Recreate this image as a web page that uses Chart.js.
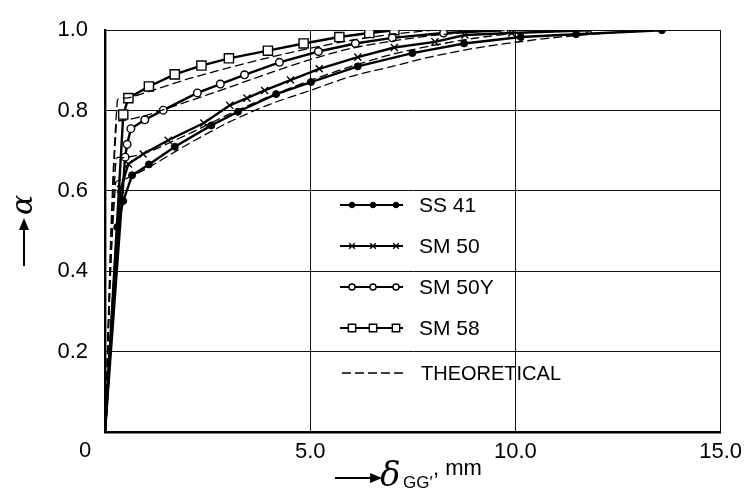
<!DOCTYPE html>
<html><head><meta charset="utf-8">
<script src="https://cdn.jsdelivr.net/npm/chart.js@4/dist/chart.umd.min.js"></script>
<style>html,body{margin:0;padding:0;background:#fff}#wrap{width:749px;height:492px;position:relative}canvas{display:block}</style>
</head><body><div id="wrap"><canvas id="c" width="749" height="492"></canvas></div>
<script>
// ---- data ----
const seriesLabels = ['SS 41', 'SM 50', 'SM 50Y', 'SM 58'];
const theoryLabel = 'THEORETICAL';
const xTickLabels = ['0', '5.0', '10.0', '15.0'];
const yTickLabels = ['0.2', '0.4', '0.6', '0.8', '1.0'];
const xTitle = ['\u03B4', 'GG\u2032', ', mm'];
const yTitle = '\u03B1';

const ss41X = [0, 0.30, 0.445, 0.66, 1.07, 1.70, 2.59, 3.24, 4.17, 5.02, 6.16, 7.49, 8.75, 10.13, 11.48, 13.57];
const ss41Y = [0, 0.510, 0.575, 0.639, 0.666, 0.710, 0.763, 0.797, 0.841, 0.871, 0.910, 0.943, 0.967, 0.983, 0.990, 1.0];

const sm50X = [0, 0.38, 0.57, 0.93, 1.54, 2.41, 3.04, 3.46, 3.89, 4.52, 5.22, 6.16, 7.05, 8.04, 8.77, 9.91, 11.8];
const sm50Y = [0, 0.604, 0.667, 0.692, 0.726, 0.769, 0.813, 0.831, 0.850, 0.876, 0.904, 0.933, 0.957, 0.971, 0.988, 0.993, 1.0];

const sm50yX = [0, 0.49, 0.54, 0.63, 0.97, 1.42, 2.25, 2.81, 3.40, 4.25, 5.20, 6.10, 7.0, 8.25, 9.72];
const sm50yY = [0, 0.684, 0.716, 0.755, 0.777, 0.801, 0.844, 0.866, 0.889, 0.920, 0.947, 0.967, 0.981, 0.993, 1.0];

const sm58X = [0, 0.445, 0.57, 1.07, 1.70, 2.35, 3.02, 3.97, 4.84, 5.71, 6.44, 7.05];
const sm58Y = [0, 0.790, 0.831, 0.860, 0.890, 0.912, 0.930, 0.949, 0.967, 0.983, 0.993, 1.0];

const theoSs41X = [0, 0.26, 0.5, 1.0, 2.0, 3.0, 4.0, 5.0, 6.0, 7.0, 8.0, 9.0, 10.0, 11.0, 12.0, 13.0, 14.0];
const theoSs41Y = [0, 0.62, 0.63, 0.655, 0.715, 0.77, 0.815, 0.85, 0.885, 0.91, 0.935, 0.955, 0.97, 0.982, 0.991, 0.997, 1.0];

const theoSm50X = [0, 0.27, 0.5, 1.0, 2.0, 3.0, 4.0, 5.0, 6.0, 7.0, 8.0, 9.0, 10.0, 11.0];
const theoSm50Y = [0, 0.68, 0.683, 0.695, 0.74, 0.79, 0.835, 0.875, 0.91, 0.94, 0.962, 0.98, 0.992, 1.0];

const theoSm50yX = [0, 0.28, 0.5, 1.0, 2.0, 3.0, 4.0, 5.0, 6.0, 7.0, 8.0, 9.0, 10.0];
const theoSm50yY = [0, 0.77, 0.776, 0.788, 0.822, 0.857, 0.893, 0.927, 0.955, 0.973, 0.987, 0.996, 1.0];

const theoSm58X = [0, 0.30, 0.6, 1.0, 2.0, 3.0, 4.0, 5.0, 6.0, 7.0, 8.0];
const theoSm58Y = [0, 0.825, 0.832, 0.845, 0.878, 0.906, 0.932, 0.955, 0.975, 0.99, 1.0];

// ---- build ----
const pts = (xs, ys) => xs.map((x, i) => ({x, y: ys[i]}));
const FONT = '"Liberation Sans", Arial, sans-serif';
const THEO_DASH = [9, 4];

const markerStyles = [
  {pointStyle: 'circle', radius: 3.5, bg: '#000', bw: 1},
  {pointStyle: 'crossRot', radius: 5, bg: '#000', bw: 1.4},
  {pointStyle: 'circle', radius: 3.8, bg: '#fff', bw: 1.4},
  {pointStyle: 'rect', radius: 6.5, bg: '#fff', bw: 1.4}
];
const expData = [pts(ss41X, ss41Y), pts(sm50X, sm50Y), pts(sm50yX, sm50yY), pts(sm58X, sm58Y)];
const theoData = [pts(theoSs41X, theoSs41Y), pts(theoSm50X, theoSm50Y), pts(theoSm50yX, theoSm50yY), pts(theoSm58X, theoSm58Y)];

const datasets = [];
theoData.forEach((d, i) => datasets.push({
  label: theoryLabel, data: d, borderColor: '#000', borderWidth: 1.3, borderDash: THEO_DASH,
  pointRadius: 0, tension: 0.3, fill: false, isTheory: true
}));
expData.forEach((d, i) => {
  const m = markerStyles[i];
  datasets.push({
    label: seriesLabels[i], data: d, borderColor: '#000', borderWidth: 2.4,
    pointStyle: m.pointStyle,
    pointRadius: ctx => ctx.dataIndex === 0 ? 0 : m.radius,
    pointBackgroundColor: m.bg, pointBorderColor: '#000', pointBorderWidth: m.bw,
    tension: 0, fill: false, markerIdx: i
  });
});

const decor = {
  id: 'decor',
  afterDraw(chart) {
    const ctx = chart.ctx;
    const xs = chart.scales.x, ys = chart.scales.y;
    ctx.save();
    ctx.fillStyle = '#000'; ctx.strokeStyle = '#000';
    // origin label
    ctx.font = '22px ' + FONT; ctx.textAlign = 'center'; ctx.textBaseline = 'middle';
    ctx.fillText(xTickLabels[0], xs.getPixelForValue(0) - 20, ys.getPixelForValue(0) + 19);

    // legend
    const lx0 = 340, lx1 = 403, ly0 = 205, dy = 41;
    const mk = [352, 373, 396];
    chart.data.datasets.filter(d => !d.isTheory).forEach((d, i) => {
      const y = ly0 + i * dy;
      const m = markerStyles[d.markerIdx];
      ctx.setLineDash([]); ctx.lineWidth = 2.2;
      ctx.beginPath(); ctx.moveTo(lx0, y); ctx.lineTo(lx1, y); ctx.stroke();
      mk.forEach(px => {
        ctx.fillStyle = m.bg; ctx.lineWidth = m.bw;
        Chart.helpers.drawPoint(ctx, {pointStyle: m.pointStyle, radius: m.radius * 0.8, borderWidth: m.bw, rotation: 0}, px, y);
      });
      ctx.fillStyle = '#000';
      ctx.textAlign = 'left'; ctx.font = '21px ' + FONT;
      ctx.fillText(d.label, 419, y + 1);
    });
    const ty = ly0 + 4 * dy + 4;
    ctx.setLineDash(THEO_DASH); ctx.lineWidth = 1.3;
    ctx.beginPath(); ctx.moveTo(342, ty); ctx.lineTo(lx1, ty); ctx.stroke();
    ctx.setLineDash([]);
    ctx.font = '20px ' + FONT;
    ctx.fillText(theoryLabel, 421, ty + 1);

    // y title: arrow + alpha, rotated
    ctx.save();
    ctx.translate(24, 230);
    ctx.rotate(-Math.PI / 2);
    ctx.lineWidth = 2;
    ctx.beginPath(); ctx.moveTo(-36, 0); ctx.lineTo(6, 0); ctx.stroke();
    ctx.beginPath(); ctx.moveTo(12, 0); ctx.lineTo(0, -5); ctx.lineTo(0, 5); ctx.closePath(); ctx.fill();
    ctx.font = 'italic 30px "DejaVu Serif", serif'; ctx.textAlign = 'left'; ctx.textBaseline = 'middle';
    ctx.fillText(yTitle, 15, 0);
    ctx.restore();

    // x title
    ctx.lineWidth = 2;
    ctx.beginPath(); ctx.moveTo(335, 478); ctx.lineTo(374, 478); ctx.stroke();
    ctx.beginPath(); ctx.moveTo(382, 478); ctx.lineTo(370, 473); ctx.lineTo(370, 483); ctx.closePath(); ctx.fill();
    ctx.textBaseline = 'alphabetic'; ctx.textAlign = 'left';
    ctx.font = 'italic 34px "DejaVu Serif", serif';
    ctx.fillText(xTitle[0], 380, 486);
    ctx.font = '17px ' + FONT;
    ctx.fillText(xTitle[1], 403, 488);
    ctx.font = '22px ' + FONT;
    ctx.fillText(xTitle[2], 433, 475);
    ctx.restore();
  }
};

new Chart(document.getElementById('c'), {
  type: 'line',
  data: {datasets},
  options: {
    responsive: false, animation: false, devicePixelRatio: 1,
    layout: {padding: {top: 20, right: 27, left: 0, bottom: 0}},
    plugins: {legend: {display: false}, tooltip: {enabled: false}},
    scales: {
      x: {
        type: 'linear', min: 0, max: 15,
        afterFit: s => { s.height = 60; },
        ticks: {stepSize: 5, color: '#000', font: {size: 22, family: FONT}, padding: 7,
          callback: v => { const i = [0,5,10,15].indexOf(v); return i > 0 ? xTickLabels[i] : ''; }},
        grid: {color: '#111', lineWidth: 1, drawTicks: false},
        border: {color: '#000', width: 2.4}
      },
      y: {
        type: 'linear', min: 0, max: 1,
        afterFit: s => { s.width = 105; },
        ticks: {stepSize: 0.2, color: '#000', font: {size: 22, family: FONT}, padding: 17,
          callback: v => { const i = Math.round(v * 5) - 1; return i >= 0 ? yTickLabels[i] : ''; }},
        grid: {color: '#111', lineWidth: 1, drawTicks: false},
        border: {color: '#000', width: 2.4}
      }
    }
  },
  plugins: [decor]
});
</script></body></html>
